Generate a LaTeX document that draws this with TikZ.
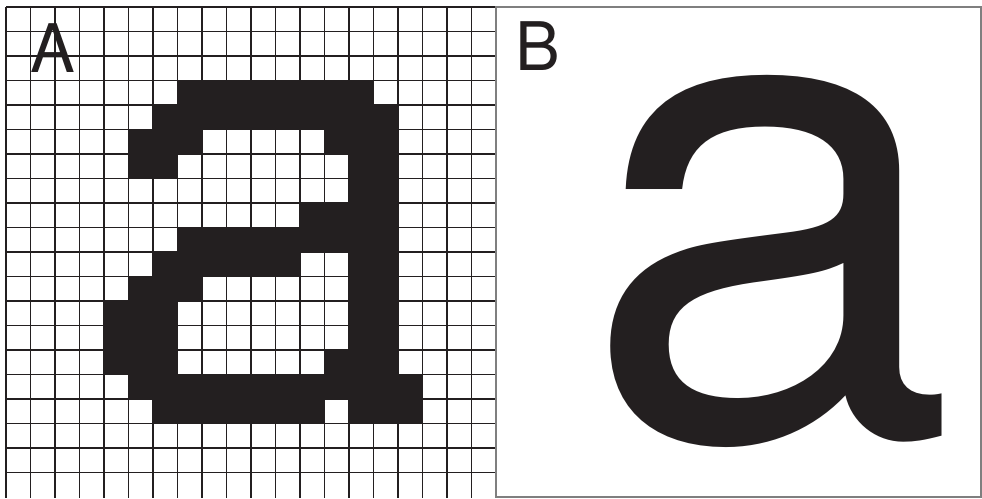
\documentclass[tikz,border=0pt]{standalone}
\usepackage{fontspec}
\newfontfamily\heros{TeX Gyre Heros}
\definecolor{ink}{HTML}{231F20}
\definecolor{frame}{HTML}{7F7F7F}
\tikzset{
  gridline/.style={draw=ink, line width=1.5pt},
  pixel/.style={fill=ink},
  panelframe/.style={draw=frame, line width=1.5pt},
  lbl/.style={anchor=base west, inner sep=0pt, text=ink, font=\heros\fontsize{67}{67}\selectfont},
  bigglyph/.style={anchor=base west, inner sep=0pt, text=ink, font=\heros\fontsize{672}{672}\selectfont}
}
\begin{document}
\begin{tikzpicture}[x=1pt, y=-1pt]
\useasboundingbox (0,0) rectangle (982,498);
% pixels of the bitmap 'a'
\foreach \r/\a/\b in {3/7/14, 4/6/15, 5/5/7, 5/13/15, 6/5/6, 6/14/15, 7/14/15,
  8/12/15, 9/7/15, 10/6/11, 10/14/15, 11/5/7, 11/14/15, 12/4/6, 12/14/15,
  13/4/6, 13/14/15, 14/4/6, 14/13/15, 15/5/16, 16/6/12, 16/14/16}
  \fill[pixel] ({6+24.5*\a},{7+24.5*\r}) rectangle ({6+24.5*(\b+1)},{7+24.5*(\r+1)});
% grid
\foreach \i in {0,...,20}
  \draw[gridline] ({6+24.5*\i},7) -- ({6+24.5*\i},498);
\foreach \j in {0,...,19}
  \draw[gridline] (6,{7+24.5*\j}) -- (496,{7+24.5*\j});
% panel B frame
\draw[panelframe] (496,7) rectangle (981,497);
% labels
\node[lbl] (labA) at (30,72) {A};
\node[lbl] (labB) at (515,70) {B};
% outline glyph
\node[bigglyph] (glyph) at (582,437) {a};
\end{tikzpicture}
\end{document}
